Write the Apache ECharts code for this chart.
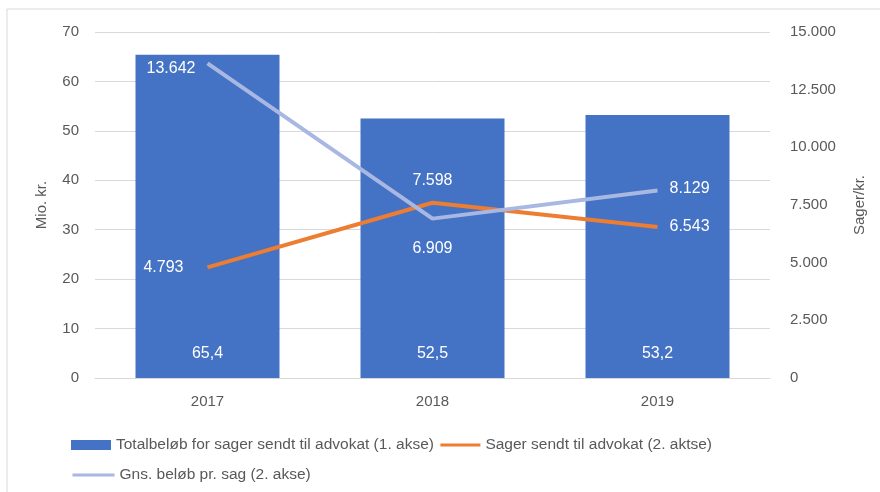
<!DOCTYPE html>
<html>
<head>
<meta charset="utf-8">
<script src="https://cdn.jsdelivr.net/npm/echarts@6/dist/echarts.min.js"></script>
<style>
  html, body { margin: 0; padding: 0; background: #fff; }
  #main { width: 880px; height: 492px; }
</style>
</head>
<body>
<div id="main"></div>
<script>
var years = ['2017', '2018', '2019'];
var totalAmount = [65.4, 52.5, 53.2];
var casesSent = [4793, 7598, 6543];
var avgPerCase = [13642, 6909, 8129];

var casesLabelPos = ['left', 'top', 'right'];
var casesLabelGap = [22, 12, 10];
var avgLabelPos = ['left', 'bottom', 'right'];
var avgLabelGap = [10, 20, 10];
var avgLabelShift = [5, 0, -2];

var names = [
  'Totalbeløb for sager sendt til advokat (1. akse)',
  'Sager sendt til advokat (2. aktse)',
  'Gns. beløb pr. sag (2. akse)'
];

function dk(v) {
  return String(v).replace(/\B(?=(\d{3})+(?!\d))/g, '.');
}

var chartDom = document.getElementById('main');
var myChart = echarts.init(chartDom);
var font = 'Liberation Sans';
var textGray = '#595959';

var legendText = { color: textGray, fontSize: 15.5, fontFamily: font };

function lineData(values, pos, gap, shift) {
  return values.map(function (v, i) {
    return {
      value: v,
      label: { position: pos[i], distance: gap[i], offset: [0, shift ? shift[i] : 0] }
    };
  });
}

var option = {
  animation: false,
  textStyle: { fontFamily: font },
  graphic: [{
    type: 'rect',
    shape: { x: 7, y: 9, width: 900, height: 500 },
    style: { fill: 'none', stroke: '#d9d9d9', lineWidth: 1 },
    silent: true
  }],
  grid: { left: 95, right: 110, top: 32, bottom: 114 },
  legend: [{
    left: 66, top: 432,
    itemWidth: 40, itemHeight: 10, itemGap: 5,
    textStyle: legendText,
    data: [
      { name: names[0], icon: 'rect' },
      { name: names[1], lineStyle: { width: 3 } }
    ]
  }, {
    left: 66, top: 462,
    itemWidth: 42, itemHeight: 10,
    textStyle: legendText,
    data: [{ name: names[2], lineStyle: { width: 3 } }]
  }],
  xAxis: {
    type: 'category',
    data: years,
    axisTick: { show: false },
    axisLine: { lineStyle: { color: '#d9d9d9' } },
    axisLabel: { color: textGray, fontSize: 15, margin: 16 }
  },
  yAxis: [{
    type: 'value', min: 0, max: 70, interval: 10,
    name: 'Mio. kr.', nameLocation: 'middle', nameGap: 46, nameRotate: 90,
    nameTextStyle: { color: textGray, fontSize: 15 },
    axisLabel: { color: textGray, fontSize: 15, margin: 16 },
    splitLine: { lineStyle: { color: '#d9d9d9' } }
  }, {
    type: 'value', min: 0, max: 15000, interval: 2500,
    name: 'Sager/kr.', nameLocation: 'middle', nameGap: 82, nameRotate: 90,
    nameTextStyle: { color: textGray, fontSize: 15 },
    axisLabel: { color: textGray, fontSize: 15, margin: 20, formatter: dk },
    splitLine: { show: false }
  }],
  series: [{
    name: names[0],
    type: 'bar',
    data: totalAmount,
    barWidth: '64%',
    itemStyle: { color: '#4472C4' },
    label: {
      show: true, position: 'insideBottom', distance: 16,
      color: '#fff', fontSize: 16,
      formatter: function (p) { return String(p.value).replace('.', ','); }
    }
  }, {
    name: names[1],
    type: 'line',
    yAxisIndex: 1,
    data: lineData(casesSent, casesLabelPos, casesLabelGap),
    symbol: 'circle', symbolSize: 4,
    lineStyle: { color: '#ED7D31', width: 4 },
    itemStyle: { color: '#ED7D31', opacity: 0 },
    label: {
      show: true, color: '#fff', fontSize: 16, opacity: 1,
      formatter: function (p) { return dk(p.value); }
    }
  }, {
    name: names[2],
    type: 'line',
    yAxisIndex: 1,
    data: lineData(avgPerCase, avgLabelPos, avgLabelGap, avgLabelShift),
    symbol: 'circle', symbolSize: 4,
    lineStyle: { color: '#A9B8E2', width: 4 },
    itemStyle: { color: '#A9B8E2', opacity: 0 },
    label: {
      show: true, color: '#fff', fontSize: 16, opacity: 1,
      formatter: function (p) { return dk(p.value); }
    }
  }]
};

option && myChart.setOption(option);
window.addEventListener('resize', myChart.resize);
</script>
</body>
</html>
